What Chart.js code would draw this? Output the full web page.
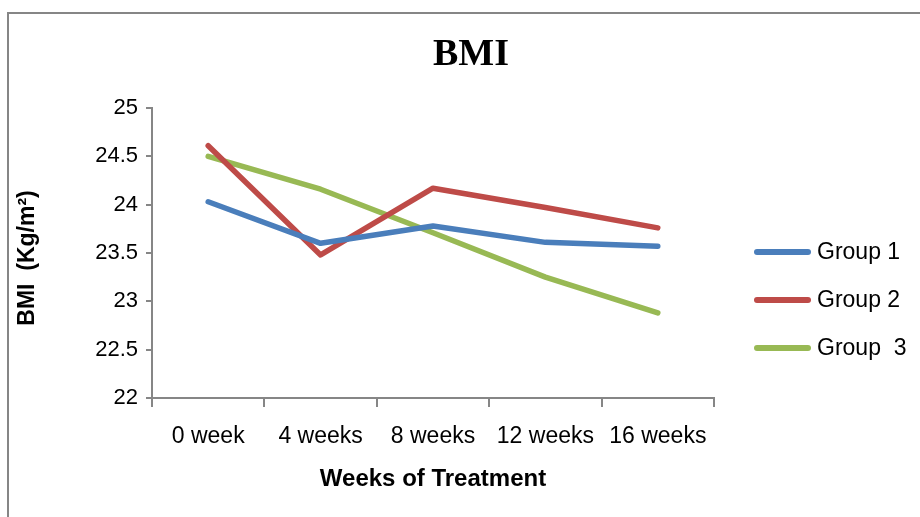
<!DOCTYPE html>
<html>
<head>
<meta charset="utf-8">
<script src="https://cdn.jsdelivr.net/npm/chart.js@4/dist/chart.umd.min.js"></script>
<style>
  html, body { margin: 0; padding: 0; background: #ffffff; }
  #wrap { width: 920px; height: 517px; position: relative; }
</style>
</head>
<body>
<div id="wrap"><canvas id="bmi"></canvas></div>
<script>
// Treatment time points
const weeks = ['0 week', '4 weeks', '8 weeks', '12 weeks', '16 weeks'];

// Mean BMI (kg/m²) per group
const group1 = [24.03, 23.60, 23.78, 23.61, 23.57];
const group2 = [24.61, 23.48, 24.17, 23.97, 23.76];
const group3 = [24.50, 24.16, 23.71, 23.25, 22.88];

const seriesNames = ['Group 1', 'Group 2', 'Group  3'];
const seriesColors = ['#4A7EBB', '#BE4B48', '#98B954'];

const chartTitle = 'BMI';
const xTitle = 'Weeks of Treatment';
const yTitle = 'BMI  (Kg/m\u00B2)';

const axisGrey = '#868686';

// Frame, titles and legend drawn on top of the chart
const decorations = {
  id: 'decorations',
  afterDraw(chart) {
    const ctx = chart.ctx;
    const area = chart.chartArea;
    ctx.save();

    // outer frame
    ctx.strokeStyle = axisGrey;
    ctx.lineWidth = 2;
    ctx.beginPath();
    ctx.moveTo(8, 520);
    ctx.lineTo(8, 13);
    ctx.lineTo(925, 13);
    ctx.stroke();

    // main title
    ctx.fillStyle = '#000000';
    ctx.font = 'bold 38px "Liberation Serif", "Times New Roman", serif';
    ctx.textAlign = 'center';
    ctx.textBaseline = 'alphabetic';
    ctx.fillText(chartTitle, 471, 65);

    // x axis title
    ctx.font = 'bold 24px "Liberation Sans", Arial, sans-serif';
    ctx.textBaseline = 'middle';
    ctx.fillText(xTitle, (area.left + area.right) / 2, 479);

    // y axis title
    ctx.save();
    ctx.translate(28, (area.top + area.bottom) / 2 + 5);
    ctx.rotate(-Math.PI / 2);
    ctx.font = 'bold 23px "Liberation Sans", Arial, sans-serif';
    ctx.textAlign = 'center';
    ctx.textBaseline = 'middle';
    ctx.fillText(yTitle, 0, 0);
    ctx.restore();

    // legend
    const legendTop = 252;
    const legendGap = 48;
    ctx.font = '23px "Liberation Sans", Arial, sans-serif';
    ctx.textAlign = 'left';
    ctx.textBaseline = 'middle';
    chart.data.datasets.forEach((ds, i) => {
      const y = legendTop + i * legendGap;
      ctx.strokeStyle = ds.borderColor;
      ctx.lineWidth = 6;
      ctx.lineCap = 'round';
      ctx.beginPath();
      ctx.moveTo(757, y);
      ctx.lineTo(808, y);
      ctx.stroke();
      ctx.fillStyle = '#000000';
      ctx.fillText(ds.label, 817, y + 1);
    });

    ctx.restore();
  }
};

const seriesData = [group1, group2, group3];

new Chart(document.getElementById('bmi'), {
  type: 'line',
  data: {
    labels: weeks,
    datasets: seriesData.map((vals, i) => ({
      label: seriesNames[i],
      data: vals,
      borderColor: seriesColors[i],
      backgroundColor: seriesColors[i],
      borderWidth: 5.5,
      borderCapStyle: 'round',
      borderJoinStyle: 'round',
      pointRadius: 0,
      pointHoverRadius: 0,
      tension: 0,
      fill: false
    }))
  },
  options: {
    responsive: true,
    maintainAspectRatio: false,
    animation: false,
    events: [],
    layout: { padding: { top: 108, right: 206, left: 0, bottom: 0 } },
    plugins: {
      legend: { display: false },
      title: { display: false },
      tooltip: { enabled: false }
    },
    scales: {
      x: {
        type: 'category',
        offset: true,
        border: { display: true, color: axisGrey, width: 2 },
        grid: {
          offset: true,
          drawOnChartArea: false,
          drawTicks: true,
          tickLength: 9,
          color: axisGrey,
          lineWidth: 2
        },
        ticks: {
          color: '#000000',
          padding: 16,
          maxRotation: 0,
          autoSkip: false,
          font: { family: '"Liberation Sans", Arial, sans-serif', size: 23 }
        },
        afterFit(scale) { scale.height = 119; }
      },
      y: {
        min: 22,
        max: 25,
        border: { display: true, color: axisGrey, width: 2 },
        grid: {
          drawOnChartArea: false,
          drawTicks: true,
          tickLength: 6,
          color: axisGrey,
          lineWidth: 2
        },
        ticks: {
          stepSize: 0.5,
          color: '#000000',
          padding: 8,
          callback: (value) => String(value),
          font: { family: '"Liberation Sans", Arial, sans-serif', size: 22 }
        },
        afterFit(scale) { scale.width = 152; }
      }
    }
  },
  plugins: [decorations]
});
</script>
</body>
</html>
